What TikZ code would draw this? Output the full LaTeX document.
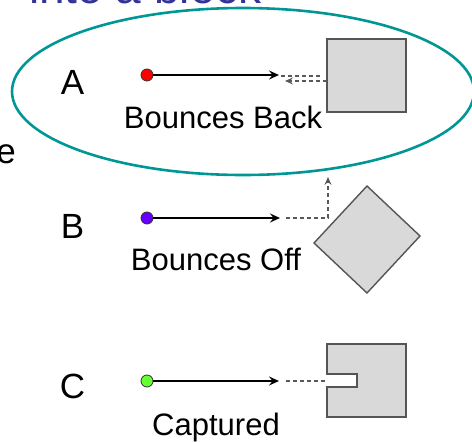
\documentclass[tikz,border=0pt]{standalone}
\usepackage{fontspec}
\setmainfont{Liberation Sans}
\usetikzlibrary{arrows.meta}
\definecolor{teal1}{RGB}{0,150,150}
\definecolor{blockgray}{RGB}{217,217,217}
\definecolor{edgegray}{RGB}{85,85,85}
\definecolor{titleblue}{RGB}{51,51,153}
\definecolor{dotred}{RGB}{255,0,0}
\definecolor{dotpurple}{RGB}{102,0,255}
\definecolor{dotgreen}{RGB}{102,255,51}
\tikzset{
  lbl/.style={font=\fontsize{35}{40}\selectfont, inner sep=0pt},
  captext/.style={font=\fontsize{31}{36}\selectfont, inner sep=0pt, anchor=base},
  dot/.style={circle, draw=black!80, line width=0.8pt, minimum size=12pt, inner sep=0pt},
  motion/.style={line width=2pt, -{Stealth[length=10pt,width=9pt,inset=3.5pt]}},
  path2/.style={draw=black!65, line width=1.4pt, dash pattern=on 4pt off 3pt},
  path2arrow/.style={path2, -{Stealth[length=8pt,width=7pt,inset=3pt]}},
  blockstyle/.style={fill=blockgray, draw=edgegray, line width=1.4pt},
}
\begin{document}
\begin{tikzpicture}[x=1pt,y=-1pt]
\useasboundingbox (0,0) rectangle (472,442);
\clip (0,0) rectangle (472,442);
% cut-off slide texts
\node[anchor=base east, inner sep=0pt, text=titleblue, font=\fontsize{46}{50}\selectfont] (title) at (262,3) {into a block};
\node[anchor=base east, inner sep=0pt, font=\fontsize{35}{40}\selectfont] (etxt) at (16,163) {e};
% highlight ellipse
\draw[teal1, line width=2.6pt] (243,91.5) ellipse [x radius=231, y radius=83.5];

% A
\node[lbl] (la) at (72.5,82.5) {A};
\node[dot, fill=dotred] (da) at (147,75) {};
\coordinate (ta) at (279,75);
\draw[motion] (da) -- (ta);
\node[blockstyle, minimum width=79pt, minimum height=73pt, inner sep=0pt] (ba) at (366.5,75.5) {};
\coordinate (a1) at (281,76);
\coordinate (a2) at (322,76);
\draw[path2] (a1) -- (a2);
\coordinate (a3) at (327,81);
\coordinate (a4) at (285,81);
\draw[path2arrow] (a3) -- (a4);
\node[captext] (ca) at (223,128) {Bounces Back};

% B
\node[lbl] (lb) at (72.5,226) {B};
\node[dot, fill=dotpurple] (db) at (147,218) {};
\coordinate (tb) at (280,218);
\draw[motion] (db) -- (tb);
\coordinate (b1) at (286,218);
\coordinate (b2) at (328,218);
\coordinate (b3) at (328,177);
\draw[path2arrow] (b1) -- (b2) -- (b3);
\draw[blockstyle] (367,186) -- (420,236) -- (367,293) -- (314,243) -- cycle;
\node[captext] (cb) at (216,270) {Bounces Off};

% C
\node[lbl] (lc) at (72.5,386) {C};
\node[dot, fill=dotgreen] (dc) at (147,381) {};
\coordinate (tc) at (279,381);
\draw[motion] (dc) -- (tc);
\coordinate (c1) at (286,381);
\coordinate (c2) at (326,381);
\draw[path2] (c1) -- (c2);
\draw[blockstyle] (327,344) -- (406,344) -- (406,417) -- (327,417) -- (327,387) -- (357,387) -- (357,374) -- (327,374) -- cycle;
\node[captext] (cc) at (216,435) {Captured};
\end{tikzpicture}
\end{document}
